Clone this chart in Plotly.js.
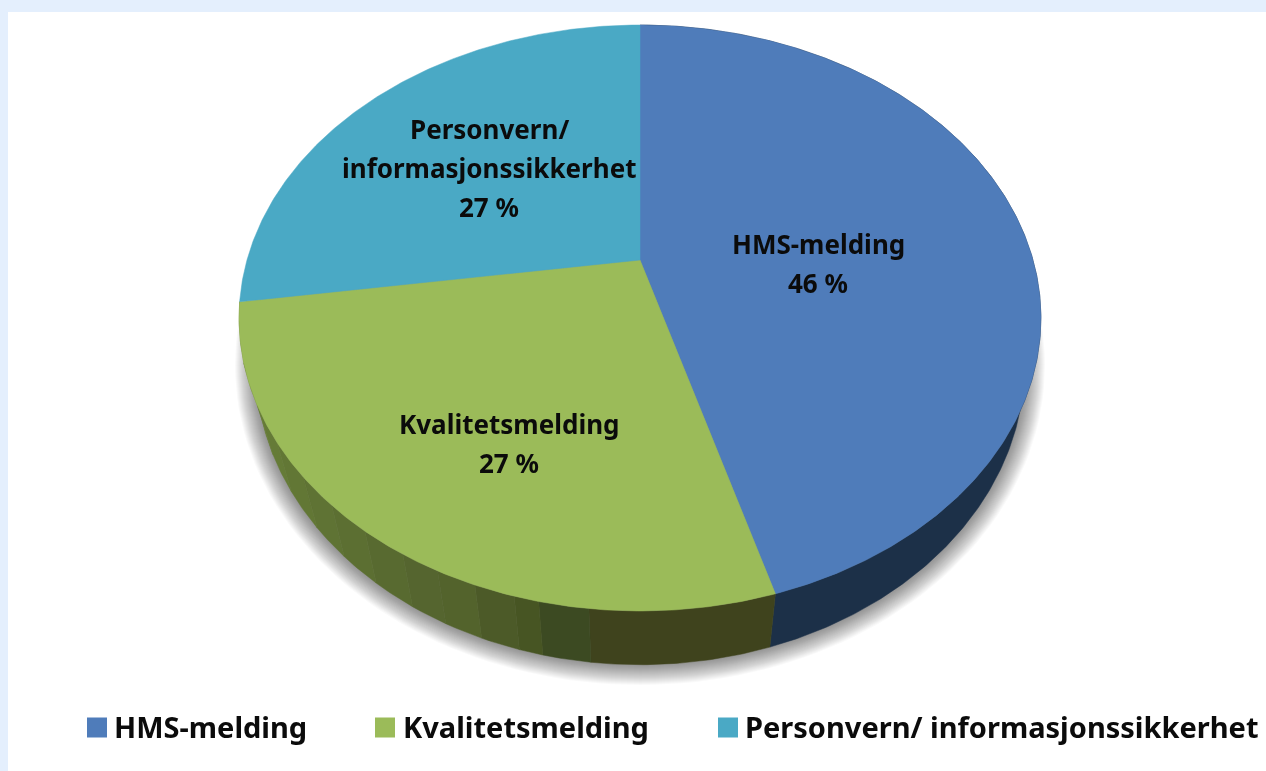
<!DOCTYPE html>
<html><head><meta charset="utf-8">
<script src="https://cdn.plot.ly/plotly-3.0.1.min.js"></script>
<style>html,body{margin:0;padding:0;background:#e4effd;overflow:hidden}#c{width:1266px;height:771px;filter:blur(0.6px)}</style>
</head><body><div id="c"></div>
<script>
const categories = ['HMS-melding','Kvalitetsmelding','Personvern/ informasjonssikkerhet'];
const values = [45.5, 27.2, 27.3];
const sliceColors = ['#4f7cba','#9bbb59','#4aa9c5'];
const blueWallColor = '#1c3048';
const greenWallColors = ['#3f431d','#3c4a22','#475523','#4c5a28','#53632c','#55652f','#586a30','#5c6f32','#5f7334','#627735','#657b37','#697f39','#6c833b'];
const greenWallEdges = [186,192,195,200,205,210,216,222,228,235,242,250];
const labelLines = [['HMS-melding'],['Kvalitetsmelding'],['Personvern/','informasjonssikkerhet']];
const labelX = [818,509,489];
const labelY = [244,424,129];
const legendSquareX = [97,385,728];
const legendTextX = [112,401,743];

const FONT = 'Noto Sans, Open Sans, sans-serif';
const k = -0.198;
function rim(deg, Y0, a, b){
  const t = deg*Math.PI/180, u = Math.sin(t), v = Math.cos(t), d = 1 - k*v;
  return [640 + a*u/d, Y0 - b*v/d];
}
function fan(from, to, R){
  const xs=[640], ys=[R[0]];
  const n=Math.max(2,Math.ceil((to-from)*2));
  for(let i=0;i<=n;i++){const p=rim(from+(to-from)*i/n,R[0],R[1],R[2]);xs.push(p[0]);ys.push(p[1]);}
  xs.push(640);ys.push(R[0]);
  return {x:xs,y:ys};
}
function band(from, to, A, B){
  const xs=[], ys=[];
  const n=Math.max(2,Math.ceil((to-from)*2));
  for(let i=0;i<=n;i++){const p=rim(from+(to-from)*i/n,A[0],A[1],A[2]);xs.push(p[0]);ys.push(p[1]);}
  for(let i=n;i>=0;i--){const p=rim(from+(to-from)*i/n,B[0],B[1],B[2]);xs.push(p[0]);ys.push(p[1]);}
  xs.push(xs[0]);ys.push(ys[0]);
  return {x:xs,y:ys};
}
function poly(g,color,name){
  return {type:'scatter',mode:'lines',x:g.x,y:g.y,fill:'toself',fillcolor:color,
    line:{color:color,width:0.5},hoverinfo:'skip',showlegend:false,name:name||''};
}
function ellipse(cx,cy,rx,ry){
  const xs=[],ys=[];
  for(let i=0;i<=360;i+=2){xs.push(cx+rx*Math.cos(i*Math.PI/180));ys.push(cy+ry*Math.sin(i*Math.PI/180));}
  return {x:xs,y:ys};
}
const total = values.reduce((a,b)=>a+b,0);
const angles=[0]; values.forEach((v,i)=>angles.push(angles[i]+v/total*360));

const TOP=[260,393,281.5], LOW=[305.6,377,288];
const traces=[];
// soft shadow under the disc
for(let i=20;i>=1;i--){
  const g=ellipse(640,365,385+i,300+i);
  traces.push({type:'scatter',mode:'lines',x:g.x,y:g.y,fill:'toself',fillcolor:'rgba(0,0,0,0.022)',line:{width:0},hoverinfo:'skip',showlegend:false});
}
// side wall
traces.push(poly(band(angles[0],angles[1],LOW,TOP),blueWallColor));
const edges=[angles[1],...greenWallEdges,angles[2]];
greenWallColors.forEach((c,i)=>traces.push(poly(band(edges[i],edges[i+1],LOW,TOP),c)));
// top faces
values.forEach((v,i)=>traces.push(poly(fan(angles[i],angles[i+1],TOP),sliceColors[i],categories[i])));
// legend squares
traces.push({type:'scatter',mode:'markers',x:legendSquareX,y:categories.map(()=>727.5),
  marker:{symbol:'square',size:20,color:sliceColors},hoverinfo:'skip',showlegend:false});

const annotations=[];
function txt(x,y,t,size,anchor){
  annotations.push({x,y,text:t,xref:'x',yref:'y',showarrow:false,xanchor:anchor||'center',yanchor:'middle',
    font:{family:FONT,size:size,color:'#0b0b0b',weight:700}});
}
values.forEach((v,i)=>{
  const lines=labelLines[i].concat([Math.round(v)+' %']);
  lines.forEach((l,j)=>txt(labelX[i],labelY[i]+j*39,l,26));
});
categories.forEach((c,i)=>txt(legendTextX[i],726,c,29,'left'));

Plotly.newPlot('c',traces,{
  width:1266,height:771,
  margin:{l:8,r:0,t:12,b:0,pad:0},
  paper_bgcolor:'#e4effd',plot_bgcolor:'#ffffff',
  showlegend:false,
  xaxis:{range:[8,1266],visible:false,fixedrange:true},
  yaxis:{range:[771,12],visible:false,fixedrange:true},
  annotations:annotations
},{displayModeBar:false,staticPlot:true});
</script></body></html>
